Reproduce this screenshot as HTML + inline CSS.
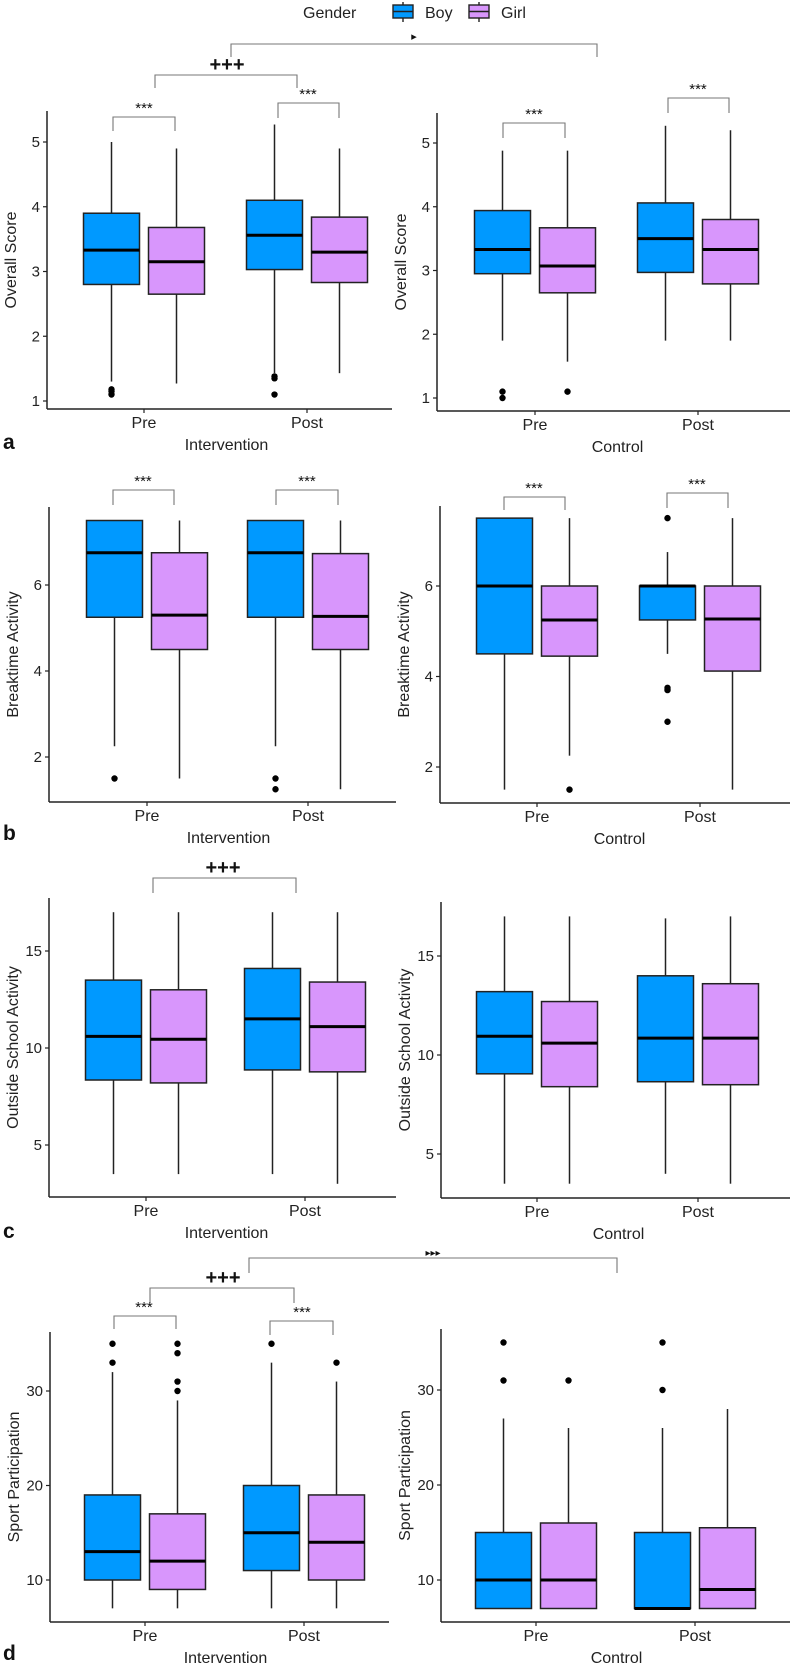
<!DOCTYPE html>
<html><head><meta charset="utf-8">
<style>
html,body{margin:0;padding:0;background:#fff;}
svg{display:block;font-family:"Liberation Sans",sans-serif;}
</style></head>
<body>
<svg id="fig" width="796" height="1672" viewBox="0 0 796 1672"></svg>
<script>
// ---- data (min, q1, median, q3, max) per time point [Pre, Post] ----
const timepoints = ["Pre", "Post"];
// Panel a: Overall Score
const aIntBoy = [[1.3, 2.8, 3.33, 3.9, 5.0], [1.43, 3.03, 3.56, 4.1, 5.27]];
const aIntGirl = [[1.27, 2.65, 3.15, 3.68, 4.9], [1.43, 2.83, 3.3, 3.84, 4.9]];
const aIntBoyOut = [[1.1, 1.15, 1.18], [1.1, 1.35, 1.38]];
const aIntGirlOut = [[], []];
const aConBoy = [[1.9, 2.95, 3.33, 3.94, 4.88], [1.9, 2.97, 3.5, 4.06, 5.27]];
const aConGirl = [[1.57, 2.65, 3.07, 3.67, 4.88], [1.9, 2.79, 3.33, 3.8, 5.2]];
const aConBoyOut = [[1.0, 1.1], []];
const aConGirlOut = [[1.1], []];
// Panel b: Breaktime Activity
const bIntBoy = [[2.25, 5.25, 6.75, 7.5, 7.5], [2.25, 5.25, 6.75, 7.5, 7.5]];
const bIntGirl = [[1.5, 4.5, 5.3, 6.75, 7.5], [1.25, 4.5, 5.27, 6.73, 7.5]];
const bIntBoyOut = [[1.5], [1.5, 1.25]];
const bIntGirlOut = [[], []];
const bConBoy = [[1.5, 4.5, 6.0, 7.5, 7.5], [4.5, 5.25, 6.0, 6.0, 6.75]];
const bConGirl = [[2.25, 4.45, 5.25, 6.0, 7.5], [1.5, 4.12, 5.27, 6.0, 7.5]];
const bConBoyOut = [[], [7.5, 3.75, 3.7, 3.0]];
const bConGirlOut = [[1.5], []];
// Panel c: Outside School Activity
const cIntBoy = [[3.5, 8.35, 10.6, 13.5, 17.0], [3.5, 8.87, 11.5, 14.1, 17.0]];
const cIntGirl = [[3.5, 8.2, 10.45, 13.0, 17.0], [3.0, 8.77, 11.1, 13.4, 17.0]];
const cConBoy = [[3.5, 9.05, 10.95, 13.2, 17.0], [4.0, 8.65, 10.85, 14.0, 16.9]];
const cConGirl = [[3.5, 8.4, 10.6, 12.7, 17.0], [3.5, 8.5, 10.85, 13.6, 17.0]];
const cNoOut = [[], []];
// Panel d: Sport Participation
const dIntBoy = [[7, 10, 13, 19, 32], [7, 11, 15, 20, 33]];
const dIntGirl = [[7, 9, 12, 17, 29], [7, 10, 14, 19, 31]];
const dIntBoyOut = [[33, 35], [35]];
const dIntGirlOut = [[30, 31, 34, 35], [33]];
const dConBoy = [[7, 7, 10, 15, 27], [7, 7, 7, 15, 26]];
const dConGirl = [[7, 7, 10, 16, 26], [7, 7, 9, 15.5, 28]];
const dConBoyOut = [[31, 35], [30, 35]];
const dConGirlOut = [[31], []];
// tick labels
const aTicks = [1, 2, 3, 4, 5];
const bTicks = [2, 4, 6];
const cTicks = [5, 10, 15];
const dTicks = [10, 20, 30];

const NS = "http://www.w3.org/2000/svg";
const svg = document.getElementById("fig");
const BOY = "#0099FF", GIRL = "#D896FC";

function el(tag, attrs, parent) {
  const e = document.createElementNS(NS, tag);
  for (const k in attrs) e.setAttribute(k, attrs[k]);
  (parent || svg).appendChild(e);
  return e;
}
function txt(s, x, y, opts, parent) {
  const t = el("text", Object.assign({x: x, y: y, "font-size": 15, fill: "#222"}, opts || {}), parent);
  t.textContent = s;
  return t;
}

function drawPanel(g, boy, girl, boyOut, girlOut, ticks, ytitle, xtitle, nameBase) {
  const grp = el("g", {});
  
  
  const ys = v => g.y0 + (v - g.v0) * (g.y1 - g.y0) / (g.v1 - g.v0);
  const xs = [g.pre, g.post];
  const yax = el("line", {x1: g.ax, y1: g.top, x2: g.ax, y2: g.bot, stroke: "#222", "stroke-width": 1.5}, grp);
  
  
  const xax = el("line", {x1: g.ax, y1: g.bot, x2: g.right, y2: g.bot, stroke: "#222", "stroke-width": 1.5}, grp);
  
  
  ticks.forEach(v => {
    const y = ys(v);
    el("line", {x1: g.ax - 4, y1: y, x2: g.ax, y2: y, stroke: "#222", "stroke-width": 1.2}, grp);
    const t = txt(String(v), g.ax - 7, y + 5, {"text-anchor": "end", "font-size": 15}, grp);
    
    
  });
  timepoints.forEach((tp, i) => {
    el("line", {x1: xs[i], y1: g.bot, x2: xs[i], y2: g.bot + 4, stroke: "#222", "stroke-width": 1.2}, grp);
    const t = txt(tp, xs[i], g.bot + 19, {"text-anchor": "middle", "font-size": 16}, grp);
    
    
  });
  const yt = txt(ytitle, 0, 0, {"text-anchor": "middle", "font-size": 16,
    transform: "translate(" + (g.ax - 31) + "," + ((g.top + g.bot) / 2) + ") rotate(-90)"}, grp);
  
  
  const xt = txt(xtitle, (g.pre + g.post) / 2 + 1, g.bot + 41, {"text-anchor": "middle", "font-size": 16}, grp);
  
  

  function box(stats, outs, cx, fill, nm) {
    const [mn, q1, md, q3, mx] = stats;
    const hw = 28;
    const w1 = el("line", {x1: cx, y1: ys(q3), x2: cx, y2: ys(mx), stroke: "#222", "stroke-width": 1.5}, grp);
    
    
    const w2 = el("line", {x1: cx, y1: ys(q1), x2: cx, y2: ys(mn), stroke: "#222", "stroke-width": 1.5}, grp);
    
    
    const r = el("rect", {x: cx - hw, y: ys(q3), width: 2 * hw, height: Math.max(ys(q1) - ys(q3), 0.5),
      fill: fill, stroke: "#222", "stroke-width": 1.5}, grp);
    
    
    const m = el("line", {x1: cx - hw, y1: ys(md), x2: cx + hw, y2: ys(md), stroke: "#000", "stroke-width": 3}, grp);
    
    
    outs.forEach(o => {
      const c = el("circle", {cx: cx, cy: ys(o), r: 3.2, fill: "#000"}, grp);
      
      
    });
  }
  timepoints.forEach((tp, i) => {
    box(boy[i], boyOut[i], xs[i] - 32.5, BOY, 'boy-' + tp.toLowerCase());
    box(girl[i], girlOut[i], xs[i] + 32.5, GIRL, 'girl-' + tp.toLowerCase());
  });
}

function bracket(x1, x2, top, b1, b2, label, lx, ly, size, nm) {
  const p = el("path", {d: "M" + x1 + "," + b1 + " V" + top + " H" + x2 + " V" + b2, fill: "none", stroke: "#777", "stroke-width": 1.1});
  
  
  const t = txt(label, lx, ly, {"text-anchor": "middle", "font-size": size, fill: "#111", "font-weight": label === "+++" ? "600" : "normal"});
  
  
}
function letter(s, y) {
  const t = txt(s, 3, y, {"font-size": 21, "font-weight": "bold", fill: "#111"});
  
  
}

// ---- legend ----
const lg = el("g", {});


const lgT = txt("Gender", 303, 18, {"font-size": 16}, lg);


[[393, BOY, "Boy", 425], [469, GIRL, "Girl", 501]].forEach(([x, c, s, tx]) => {
  el("line", {x1: x + 10, y1: 2, x2: x + 10, y2: 22, stroke: "#222", "stroke-width": 1.4}, lg);
  const k = el("rect", {x: x, y: 5, width: 20, height: 13, fill: c, stroke: "#222", "stroke-width": 1.4}, lg);
  
  
  el("line", {x1: x, y1: 11.5, x2: x + 20, y2: 11.5, stroke: "#222", "stroke-width": 1.5}, lg);
  const t = txt(s, tx, 18, {"font-size": 16}, lg);
  
  
});

// ---- panel a ----
drawPanel({ax: 47, top: 111, bot: 409, right: 392, v0: 1, y0: 401, v1: 5, y1: 142, pre: 144, post: 307},
  aIntBoy, aIntGirl, aIntBoyOut, aIntGirlOut, aTicks, "Overall Score", "Intervention", "panel-a-intervention");
drawPanel({ax: 437, top: 113, bot: 411, right: 790, v0: 1, y0: 398, v1: 5, y1: 143, pre: 535, post: 698},
  aConBoy, aConGirl, aConBoyOut, aConGirlOut, aTicks, "Overall Score", "Control", "panel-a-control");
bracket(231, 597, 44, 57, 57, "\u25B8", 414, 40, 11, 'a-group-interaction');
bracket(155, 297, 75, 88, 88, "+++", 227, 71, 20, 'a-time-effect');
bracket(113, 175, 117, 131, 131, "***", 144, 113, 15, 'a-int-pre-gender');
bracket(278, 339, 103, 118, 118, "***", 308, 99, 15, 'a-int-post-gender');
bracket(503, 565, 123, 138, 138, "***", 534, 119, 15, 'a-con-pre-gender');
bracket(668, 729, 98, 113, 113, "***", 698, 94, 15, 'a-con-post-gender');
letter("a", 449);

// ---- panel b ----
drawPanel({ax: 49, top: 507, bot: 802, right: 396, v0: 2, y0: 757, v1: 6, y1: 585, pre: 147, post: 308},
  bIntBoy, bIntGirl, bIntBoyOut, bIntGirlOut, bTicks, "Breaktime Activity", "Intervention", "panel-b-intervention");
drawPanel({ax: 440, top: 506, bot: 803, right: 790, v0: 2, y0: 767, v1: 6, y1: 586, pre: 537, post: 700},
  bConBoy, bConGirl, bConBoyOut, bConGirlOut, bTicks, "Breaktime Activity", "Control", "panel-b-control");
bracket(113, 174, 490, 505, 505, "***", 143, 486, 15, 'b-int-pre-gender');
bracket(276, 338, 490, 505, 505, "***", 307, 486, 15, 'b-int-post-gender');
bracket(504, 565, 497, 510, 510, "***", 534, 493, 15, 'b-con-pre-gender');
bracket(667, 728, 493, 508, 508, "***", 697, 489, 15, 'b-con-post-gender');
letter("b", 840);

// ---- panel c ----
drawPanel({ax: 49, top: 898, bot: 1197, right: 396, v0: 5, y0: 1145, v1: 15, y1: 951, pre: 146, post: 305},
  cIntBoy, cIntGirl, cNoOut, cNoOut, cTicks, "Outside School Activity", "Intervention", "panel-c-intervention");
drawPanel({ax: 441, top: 902, bot: 1198, right: 790, v0: 5, y0: 1154, v1: 15, y1: 956, pre: 537, post: 698},
  cConBoy, cConGirl, cNoOut, cNoOut, cTicks, "Outside School Activity", "Control", "panel-c-control");
bracket(153, 296, 878, 893, 893, "+++", 223, 874, 20, 'c-time-effect');
letter("c", 1238);

// ---- panel d ----
drawPanel({ax: 50, top: 1332, bot: 1622, right: 389, v0: 10, y0: 1580, v1: 30, y1: 1391, pre: 145, post: 304},
  dIntBoy, dIntGirl, dIntBoyOut, dIntGirlOut, dTicks, "Sport Participation", "Intervention", "panel-d-intervention");
drawPanel({ax: 441, top: 1329, bot: 1622, right: 790, v0: 10, y0: 1580, v1: 30, y1: 1390, pre: 536, post: 695},
  dConBoy, dConGirl, dConBoyOut, dConGirlOut, dTicks, "Sport Participation", "Control", "panel-d-control");
bracket(249, 617, 1258, 1273, 1273, "\u25B8\u25B8\u25B8", 433, 1256, 10, 'd-group-interaction');
bracket(150, 294, 1288, 1303, 1303, "+++", 223, 1284, 20, 'd-time-effect');
bracket(114, 176, 1316, 1329, 1329, "***", 144, 1312, 15, 'd-int-pre-gender');
bracket(270, 333, 1321, 1335, 1335, "***", 302, 1317, 15, 'd-int-post-gender');
letter("d", 1660);
</script>
</body></html>
